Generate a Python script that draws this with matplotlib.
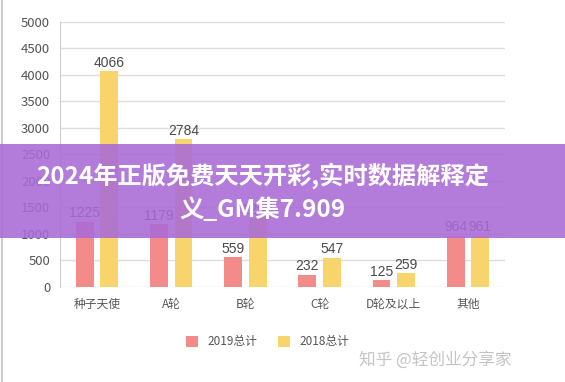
import numpy as np
import matplotlib
matplotlib.use("Agg")
import matplotlib.pyplot as plt
from matplotlib.patches import Rectangle

plt.rcParams["font.family"] = ["Noto Sans CJK SC", "DejaVu Sans"]

categories = ["种子天使", "A轮", "B轮", "C轮", "D轮及以上", "其他"]
totals_2019 = [1225, 1179, 559, 232, 125, 964]
totals_2018 = [4066, 2784, 1290, 547, 259, 961]
series_names = ["2019总计", "2018总计"]
yticks = list(range(0, 5001, 500))

banner_text = "2024年正版免费天天开彩,实时数据解释定\n义_GM集7.909"
watermark = "知乎 @轻创业分享家"

pink = "#f48b8b"
yellow = "#f8d46c"
text_gray = "#4a4a4a"

fig = plt.figure(figsize=(5.65, 3.82), dpi=100)
ax = fig.add_axes([0.106, 0.249, 0.788, 0.694])

x = np.arange(len(categories))
w = 0.24
off = 0.165
b1 = ax.bar(x - off, totals_2019, w, color=pink, zorder=3, label=series_names[0])
b2 = ax.bar(x + off, totals_2018, w, color=yellow, zorder=3, label=series_names[1])

for bars in (b1, b2):
    for r in bars:
        ax.text(r.get_x() + r.get_width() / 2, r.get_height() + 30, str(int(r.get_height())),
                ha="center", va="bottom", fontsize=10, family="Liberation Sans",
                color=text_gray, zorder=4)

ax.set_xlim(-0.5, len(categories) - 0.5)
ax.set_ylim(0, 5000)
ax.set_yticks(yticks)
ax.set_xticks(x)
ax.set_xticklabels(categories)
ax.tick_params(axis="y", length=0, pad=7, labelsize=9.5, labelcolor="#555555")
ax.tick_params(axis="x", length=0, pad=8, labelsize=8.5, labelcolor="#555555")
ax.grid(axis="y", color="#dddddd", linewidth=1, zorder=0)
for s in ("top", "right", "bottom"):
    ax.spines[s].set_visible(False)
ax.spines["left"].set_color("#cccccc")

leg = fig.legend(handles=[b1, b2], loc="center", bbox_to_anchor=(0.474, 0.105), ncol=2,
                 frameon=False, fontsize=8.5, handlelength=1.0, handleheight=1.0,
                 columnspacing=1.7, handletextpad=0.85)
for t in leg.get_texts():
    t.set_color("#555555")

# left frame line of the screenshot
fig.add_artist(plt.Line2D([0.004, 0.004], [0, 1], color="#cccccc", linewidth=1.5))

# purple overlay banner
fig.add_artist(Rectangle((0, 1 - 238 / 382), 1, 94 / 382, transform=fig.transFigure,
                         facecolor="#a96ad6", alpha=0.88, edgecolor="none", zorder=10))
fig.text(0.465, 1 - 192 / 382, banner_text, ha="center", va="center", fontsize=17.5,
         fontweight="bold", color="white", linespacing=1.45, zorder=11)

fig.text(0.905, 1 - 360 / 382, watermark, ha="right", va="center", fontsize=12,
         color="#c4c4c4", zorder=11)

fig.savefig("out.png", dpi=100)
